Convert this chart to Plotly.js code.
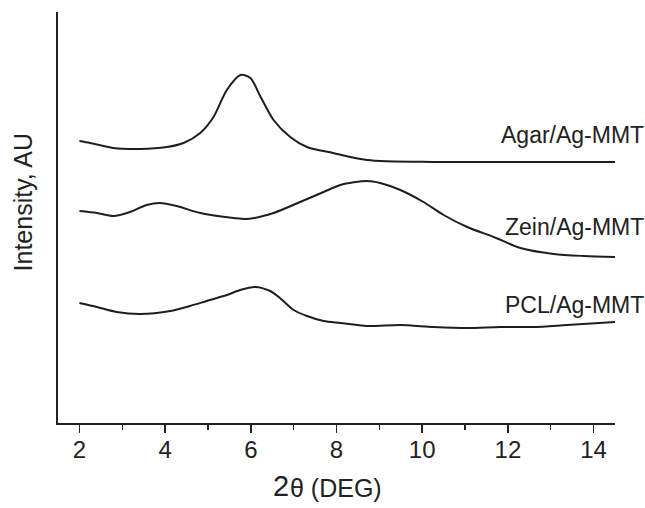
<!DOCTYPE html>
<html>
<head>
<meta charset="utf-8">
<script src="https://cdn.plot.ly/plotly-3.0.1.min.js"></script>
<style>html,body{margin:0;padding:0;background:#fff;}#chart{width:645px;height:508px;}</style>
</head>
<body>
<div id="chart"></div>
<script>
// 2θ (deg) values and intensity (arbitrary units)
const agarX = [2.0, 2.25, 2.79, 3.42, 4.04, 4.43, 4.82, 5.13, 5.44, 5.76, 5.99, 6.23, 6.53, 6.92, 7.31, 7.92, 8.71, 10.26, 11.82, 14.5];
const agarY = [282, 280, 275, 274, 276, 280, 290, 306, 333, 348, 345, 326, 303, 286, 276, 270, 263, 261, 261, 261];

const zeinX = [2.0, 2.41, 2.79, 3.18, 3.57, 3.88, 4.27, 4.82, 5.60, 5.91, 6.53, 7.15, 7.70, 8.09, 8.71, 9.02, 9.49, 10.03, 10.50, 11.05, 11.67, 12.29, 13.07, 13.77, 14.5];
const zeinY = [212, 210, 207, 211, 218, 220, 217, 210, 205, 204, 210, 221, 231, 238, 242, 240, 233, 221, 208, 196, 186, 175, 169, 167, 166];

const pclX = [2.0, 2.41, 2.87, 3.42, 4.12, 4.58, 4.97, 5.44, 5.75, 6.10, 6.45, 6.68, 7.00, 7.31, 7.70, 8.09, 8.71, 9.49, 10.27, 11.05, 11.82, 12.60, 13.38, 14.5];
const pclY = [120, 116, 111, 109, 112, 117, 122, 128, 133, 136, 132, 125, 113, 107, 102, 100, 97, 98, 96, 95, 96, 96, 98, 101];

const seriesNames = ["Agar/Ag-MMT", "Zein/Ag-MMT", "PCL/Ag-MMT"];
const xTicks = [2, 4, 6, 8, 10, 12, 14];

const lineStyle = {color: '#1e1e1e', width: 2, shape: 'spline', smoothing: 0.8};
const traces = [
  {x: agarX, y: agarY, name: seriesNames[0]},
  {x: zeinX, y: zeinY, name: seriesNames[1]},
  {x: pclX, y: pclY, name: seriesNames[2]}
].map(t => Object.assign(t, {type: 'scatter', mode: 'lines', line: lineStyle, hoverinfo: 'skip'}));

const fam = 'Liberation Sans, Arial, sans-serif';
const labelFont = {family: fam, size: 23, color: '#222'};
const labelY = [288, 196, 118];

const annotations = seriesNames.map((n, i) => ({
  text: n, xref: 'paper', yref: 'y', x: 1.056, y: labelY[i],
  xanchor: 'right', yanchor: 'middle', showarrow: false, font: labelFont
}));
annotations.push({
  text: 'Intensity, AU', xref: 'paper', yref: 'y', x: -0.062, y: 221,
  xanchor: 'center', yanchor: 'middle', textangle: -90, showarrow: false,
  font: {family: fam, size: 25, color: '#222'}
});
annotations.push({
  text: '2', xref: 'paper', yref: 'paper', x: 0.419, y: -0.154,
  xanchor: 'right', yanchor: 'middle', showarrow: false,
  font: {family: fam, size: 29, color: '#222'}
});
annotations.push({
  text: 'θ (DEG)', xref: 'paper', yref: 'paper', x: 0.413, y: -0.157,
  xanchor: 'left', yanchor: 'middle', showarrow: false,
  font: {family: fam, size: 25, color: '#222'}
});

const layout = {
  width: 645, height: 508,
  margin: {l: 58, r: 30, t: 12, b: 85},
  paper_bgcolor: '#fff', plot_bgcolor: '#fff',
  showlegend: false,
  xaxis: {
    range: [1.5, 14.5], tickvals: xTicks, ticktext: xTicks.map(String),
    ticks: 'outside', ticklen: 8, tickwidth: 1.5, tickcolor: '#222',
    ticklabelstandoff: -4,
    minor: {dtick: 1, tick0: 1, ticks: 'outside', ticklen: 5, tickwidth: 1.5, tickcolor: '#222', showgrid: false},
    showline: true, linecolor: '#222', linewidth: 2, showgrid: false, zeroline: false,
    tickfont: {family: fam, size: 24, color: '#222'}
  },
  yaxis: {
    range: [0, 411], showticklabels: false, ticks: '',
    showline: true, linecolor: '#222', linewidth: 2, showgrid: false, zeroline: false
  },
  annotations: annotations
};

Plotly.newPlot('chart', traces, layout, {displayModeBar: false, staticPlot: true});
</script>
</body>
</html>
